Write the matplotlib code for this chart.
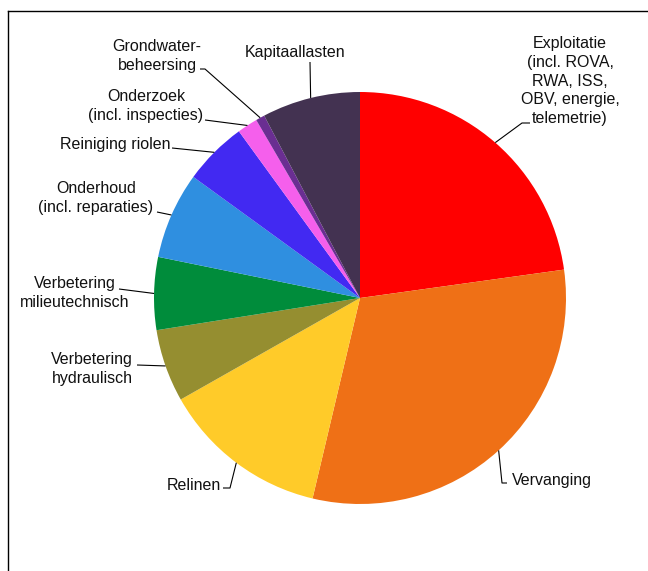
import numpy as np
import matplotlib
matplotlib.use("Agg")
import matplotlib.pyplot as plt
from matplotlib.lines import Line2D

# Cost categories (clockwise from the top) and their shares in percent
categories = [
    "Exploitatie\n(incl. ROVA,\nRWA, ISS,\nOBV, energie,\ntelemetrie)",
    "Vervanging",
    "Relinen",
    "Verbetering\nhydraulisch",
    "Verbetering\nmilieutechnisch",
    "Onderhoud\n(incl. reparaties)",
    "Reiniging riolen",
    "Onderzoek\n(incl. inspecties)",
    "Grondwater-\nbeheersing",
    "Kapitaallasten",
]
shares = [22.8, 30.9, 13.1, 5.7, 5.7, 6.8, 5.0, 1.6, 0.7, 7.7]
colors = ["#FF0000", "#EF7016", "#FFCB29", "#958E30", "#008C3B",
          "#2F8FE0", "#4229F2", "#F55FEC", "#6A2E92", "#433251"]

W, H = 648, 571
fig = plt.figure(figsize=(W / 100, H / 100), dpi=100)
ax = fig.add_axes([0, 0, 1, 1])

cx, cy, r = 360, H - 298, 206
wedges, _ = ax.pie(shares, colors=colors, startangle=90, counterclock=False,
                   center=(cx, cy), radius=r,
                   wedgeprops=dict(linewidth=0, antialiased=True))
ax.set_xlim(0, W)
ax.set_ylim(0, H)
ax.set_aspect("auto")
ax.axis("off")

# label placement in pixel space (top-left origin): text position, alignment,
# elbow points of the leader line (from wedge edge towards the label)
label_layout = [
    dict(xy=(570, 81), ha="center", elbow=[(522, 123), (530, 123)]),
    dict(xy=(512, 480), ha="left", elbow=[(502, 483), (507, 483)]),
    dict(xy=(221, 485), ha="right", elbow=[(230, 488), (223, 488)]),
    dict(xy=(92, 369), ha="center", elbow=[(137, 365)]),
    dict(xy=(75, 293), ha="center", elbow=[(119, 289)]),
    dict(xy=(96, 198), ha="center", elbow=[(157, 212)]),
    dict(xy=(170, 144), ha="right", elbow=[(172, 148)]),
    dict(xy=(146, 106), ha="center", elbow=[(205, 120)]),
    dict(xy=(157, 56), ha="center", elbow=[(205, 69), (200, 69)]),
    dict(xy=(295, 53), ha="center", elbow=[(310, 62)]),
]

font = dict(family=["Liberation Sans", "DejaVu Sans"], size=11.5, color="#111111")

for w, text, lay in zip(wedges, categories, label_layout):
    mid = np.deg2rad((w.theta1 + w.theta2) / 2)
    ex = w.center[0] + w.r * np.cos(mid)
    ey = w.center[1] + w.r * np.sin(mid)
    xs = [ex] + [p[0] for p in lay["elbow"]]
    ys = [ey] + [H - p[1] for p in lay["elbow"]]
    ax.plot(xs, ys, color="black", lw=0.8, solid_capstyle="butt")
    ax.text(lay["xy"][0], H - lay["xy"][1], text, ha=lay["ha"], va="center",
            multialignment="center", linespacing=1.3, **font)

# outer frame (top and left edges)
fig.add_artist(Line2D([8 / W, 1], [1 - 11 / H, 1 - 11 / H],
                      transform=fig.transFigure, color="black", lw=1.0))
fig.add_artist(Line2D([8 / W, 8 / W], [0, 1 - 11 / H],
                      transform=fig.transFigure, color="black", lw=1.0))

fig.savefig("out.png", dpi=100, facecolor="white")
